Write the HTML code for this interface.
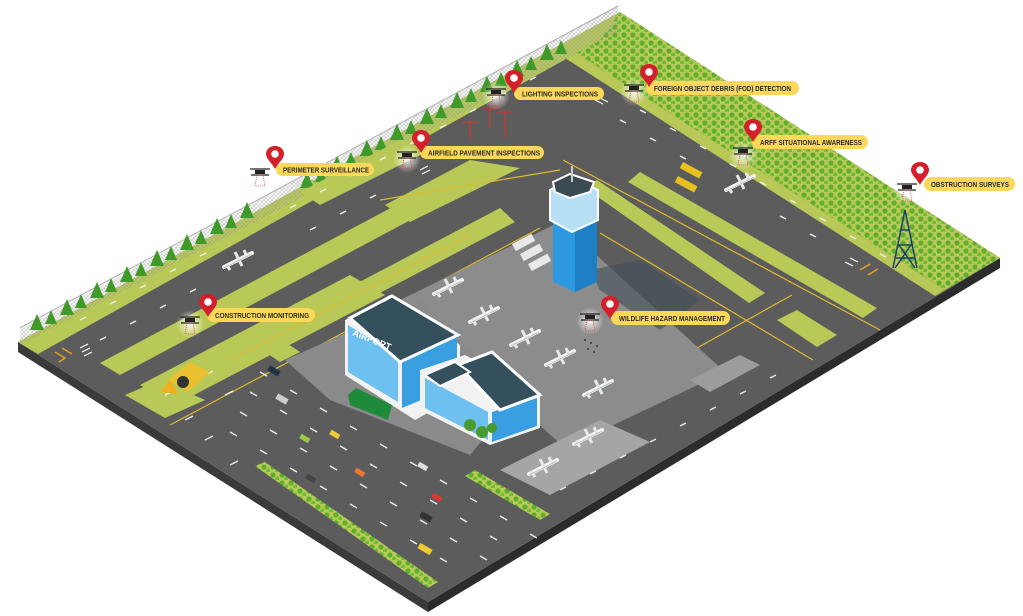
<!DOCTYPE html>
<html><head><meta charset="utf-8"><style>
html,body{margin:0;padding:0;background:#fff;width:1023px;height:616px;overflow:hidden}
svg{display:block}
.lb{font-family:"Liberation Sans Narrow","Liberation Sans",sans-serif;font-weight:bold;font-size:7.5px;fill:#2a2a2a}
</style></head><body>
<svg width="1023" height="616" viewBox="0 0 1023 616" xmlns="http://www.w3.org/2000/svg">
<defs>
<pattern id="shr" width="9" height="8" patternUnits="userSpaceOnUse">
<rect width="9" height="8" fill="#b9c957"/>
<circle cx="3" cy="3" r="2.6" fill="#5fae2e"/><circle cx="7.5" cy="7" r="2.4" fill="#6cbf34"/>
</pattern>
<pattern id="fen" width="4" height="4" patternUnits="userSpaceOnUse">
<path d="M0 0L4 4M4 0L0 4" stroke="#999" stroke-width="0.5"/>
</pattern>
<radialGradient id="glow"><stop offset="0" stop-color="#fff" stop-opacity=".9"/><stop offset="1" stop-color="#fff" stop-opacity="0"/></radialGradient>
<g id="pin"><path d="M0 0C-6 0-9 4-9 8C-9 13-3 17 0 23C3 17 9 13 9 8C9 4 6 0 0 0Z" fill="#d3202a"/><circle cx="0" cy="8" r="3.8" fill="#fff"/></g>
<g id="drone"><circle cx="0" cy="4" r="14" fill="url(#glow)"/><rect x="-5" y="-2" width="10" height="4" fill="#222"/><path d="M-10 -3H10M-9 3H9" stroke="#222" stroke-width="1.3"/><path d="M-3 3L-5 14H5L3 3Z" fill="none" stroke="#e04040" stroke-width="0.8" stroke-dasharray="1 1"/></g>
<g id="plane"><path d="M-14 7L14 -7" stroke="#f4f4f4" stroke-width="4" stroke-linecap="round"/><path d="M-3 -8L4 6M6 -10L9 -3M-12 4L-8 10" stroke="#e8e8e8" stroke-width="3"/><path d="M-14 8L14 -6" stroke="#9aa" stroke-width="0.6"/></g>
</defs>

<!-- platform sides -->
<polygon points="18,342 428,602 428,612 18,352" fill="#3a3a3a"/>
<polygon points="428,602 1000,258 1000,268 428,612" fill="#2c2c2c"/>
<!-- top surface -->
<polygon points="18,342 620,12 1000,258 428,602" fill="#5c5c5c"/>

<!-- top-right grass band -->
<polygon points="620,12 1000,258 945,290 575,52" fill="url(#shr)"/>
<polygon points="575,52 945,290 935,296 565,58" fill="#b9c957"/>
<!-- top-left grass strip -->
<polygon points="18,342 620,12 600,40 38,354" fill="#b9c957"/>
<!-- fence -->
<polygon points="20,330 618,6 618,32 20,345" fill="url(#fen)" opacity=".9"/>
<line x1="20" y1="328" x2="618" y2="6" stroke="#aaa" stroke-width="1"/>
<!-- trees along TL -->
<g fill="#3f9a2a">
<path d="M30 330l7 -16 7 16z M60 315l7 -16 7 16z M90 298l7 -16 7 16z M120 282l7 -16 7 16z M150 266l7 -16 7 16z M180 250l7 -16 7 16z M210 234l7 -16 7 16z M240 218l7 -16 7 16z M300 188l7 -16 7 16z M330 172l7 -16 7 16z M360 156l7 -16 7 16z M390 140l7 -16 7 16z M420 124l7 -16 7 16z M450 108l7 -16 7 16z M480 92l7 -16 7 16z M510 76l7 -16 7 16z M540 60l7 -16 7 16z M45 324l6 -14 6 14z M75 308l6 -14 6 14z M105 292l6 -14 6 14z M135 276l6 -14 6 14z M165 260l6 -14 6 14z M195 244l6 -14 6 14z M225 228l6 -14 6 14z M315 182l6 -14 6 14z M345 166l6 -14 6 14z M375 150l6 -14 6 14z M405 134l6 -14 6 14z M435 118l6 -14 6 14z M465 102l6 -14 6 14z M495 86l6 -14 6 14z M525 70l6 -14 6 14z M555 54l6 -14 6 14z"/>
</g>

<!-- lime strips (left side) -->
<polygon points="100,363 400,203 420,215 120,375" fill="#b9c957"/>
<polygon points="300,192 400,140 430,150 320,205" fill="#b9c957"/>
<polygon points="385,205 470,160 520,168 410,222" fill="#b9c957"/>
<polygon points="140,385 350,275 385,295 175,405" fill="#b9c957"/>
<polygon points="125,395 160,380 205,400 165,418" fill="#b9c957"/>
<polygon points="240,345 500,208 515,222 260,356" fill="#b9c957"/>
<polygon points="265,352 285,342 300,352 280,362" fill="#b9c957"/>
<!-- lime strips right -->
<polygon points="628,182 640,172 877,308 863,318" fill="#b9c957"/>
<polygon points="585,188 597,180 765,293 749,303" fill="#b9c957"/>
<polygon points="777,320 797,310 837,335 817,347" fill="#b9c957"/>

<!-- yellow taxi lines -->
<g stroke="#e0b830" stroke-width="1.2" fill="none">
<path d="M170 425L540 228"/>
<path d="M563 160L880 330"/>
<path d="M600 233L813 360"/>
<path d="M697 348L792 295"/>
<path d="M230 360L470 235"/>
<path d="M380 200L560 170"/>
</g>

<!-- apron -->
<polygon points="400,300 560,222 725,372 565,448" fill="#8c8c8c"/>
<polygon points="500,470 600,420 650,442 550,495" fill="#a5a5a5"/>
<polygon points="285,360 420,300 520,395 470,455 330,400" fill="#8a8a8a"/>
<!-- shadow from tower -->
<polygon points="590,270 640,260 700,300 660,330 600,290" fill="#3f4f55" opacity=".6"/>

<!-- runway dashes -->
<g stroke="#eee" stroke-width="1.5">
<path d="M80 320l6 -3M110 304l6 -3M140 288l6 -3M170 272l6 -3M200 256l6 -3M290 208l6 -3M320 192l6 -3M350 176l6 -3M380 160l6 -3M410 144l6 -3M440 128l6 -3M470 112l6 -3M500 96l6 -3M530 80l6 -3"/>
<path d="M100 340l6 -3M130 324l6 -3M160 308l6 -3M190 292l6 -3M310 230l6 -3M340 214l6 -3M370 198l6 -3"/>
<path d="M640 110l6 3M670 128l6 3M700 146l6 3M730 164l6 3M760 182l6 3M790 200l6 3M820 218l6 3M850 236l6 3M880 254l6 3"/>
<path d="M620 120l6 3M650 138l6 3M680 156l6 3M780 216l6 3M810 234l6 3"/>
</g>
<g stroke="#fff" stroke-width="1"><path d="M80 348l8 -4M82 352l8 -4M84 356l8 -4M595 100l8 4M600 98l8 4M845 262l8 4M850 258l8 4M420 170l8 -4M422 174l8 -4"/></g>
<g stroke="#e8a020" stroke-width="1.5" fill="none"><path d="M55 352l10 6l-6 4M62 348l10 6M860 270l10 -6M868 275l10 -6"/></g>

<!-- road lanes -->
<g stroke="#eee" stroke-width="1.3">
<path d="M165 395l8 -4M185 420l8 -4M205 440l8 -4M230 465l8 -4M205 375l8 -4M225 395l8 -4"/>
<path d="M260 372l7 4M290 390l7 4M320 408l7 4M350 426l7 4M380 444l7 4M410 462l7 4M440 480l7 4M470 498l7 4M500 516l7 4M530 534l7 4"/>
<path d="M250 392l7 4M280 410l7 4M310 428l7 4M340 446l7 4M370 464l7 4M400 482l7 4M430 500l7 4M460 518l7 4M490 536l7 4"/>
<path d="M240 412l7 4M270 430l7 4M300 448l7 4M330 466l7 4M360 484l7 4M390 502l7 4M420 520l7 4M450 538l7 4M480 556l7 4"/>
<path d="M230 432l7 4M260 450l7 4M290 468l7 4M320 486l7 4M350 504l7 4M380 522l7 4M410 540l7 4M440 558l7 4"/>
<path d="M560 490l6 -3M590 474l6 -3M620 458l6 -3M650 442l6 -3M680 426l6 -3M710 410l6 -3M740 394l6 -3M770 378l6 -3"/>
</g>
<!-- bottom shrubs -->
<polygon points="255,466 265,462 438,582 428,588" fill="url(#shr)"/>
<polygon points="465,476 475,470 550,514 540,520" fill="url(#shr)"/>
<polygon points="690,380 740,355 760,365 710,392" fill="#9c9c9c"/>

<!-- construction -->
<polygon points="168,380 190,362 210,372 188,392" fill="#e8c030"/>
<circle cx="183" cy="382" r="6" fill="#333"/>
<polygon points="160,392 170,380 178,394" fill="#f0b020"/>

<!-- tower -->
<polygon points="553,200 572,190 597,200 597,282 575,292 553,282" fill="#2d9ae0"/>
<polygon points="575,200 597,200 597,282 575,292" fill="#1f7fc4"/>
<polygon points="550,190 572,178 598,190 598,220 572,232 550,220" fill="#b8e0f5" stroke="#fff" stroke-width="2"/>
<polygon points="553,182 570,174 594,182 590,192 570,198 555,192" fill="#3a4a52" stroke="#fff" stroke-width="2"/>
<line x1="572" y1="182" x2="572" y2="166" stroke="#ccc" stroke-width="2"/>
<!-- buses -->
<g fill="#e8e8e8"><rect x="512" y="244" width="22" height="8" transform="rotate(-28 512 244)"/><rect x="520" y="254" width="22" height="8" transform="rotate(-28 520 254)"/><rect x="528" y="264" width="22" height="8" transform="rotate(-28 528 264)"/></g>

<!-- terminal -->
<polygon points="345,320 390,295 460,345 460,395 415,420 345,375" fill="#f2f2f2"/>
<polygon points="348,325 348,372 398,402 398,355" fill="#6ec0f0"/>
<polygon points="402,355 457,330 457,385 402,408" fill="#3a9fe0"/>
<polygon points="350,318 392,296 458,335 400,362" fill="#34505c" stroke="#fff" stroke-width="3"/>
<text x="352" y="335" transform="rotate(22 352 335)" font-family="Liberation Sans,sans-serif" font-weight="bold" font-size="9" fill="#fff">AIRPORT</text>
<polygon points="420,370 465,355 540,395 540,428 490,445 420,410" fill="#f2f2f2"/>
<polygon points="425,378 488,412 488,440 425,408" fill="#6ec0f0"/>
<polygon points="492,412 537,398 537,426 492,442" fill="#3a9fe0"/>
<polygon points="458,365 492,352 540,395 500,410" fill="#34505c" stroke="#fff" stroke-width="3"/>
<polygon points="425,375 455,362 470,372 440,386" fill="#34505c" stroke="#fff" stroke-width="2"/>
<circle cx="470" cy="425" r="6" fill="#4a9a30"/><circle cx="482" cy="432" r="6" fill="#4a9a30"/><circle cx="492" cy="428" r="5" fill="#4a9a30"/>
<!-- bus green -->
<polygon points="348,395 356,388 392,405 388,420 350,405" fill="#1e8a3a"/>

<!-- planes -->
<use href="#plane" x="448" y="287"/><use href="#plane" x="484" y="315"/><use href="#plane" x="525" y="338"/><use href="#plane" x="560" y="358"/><use href="#plane" x="598" y="388"/>
<use href="#plane" x="588" y="437"/><use href="#plane" x="543" y="467"/><use href="#plane" x="238" y="260"/><use href="#plane" x="740" y="183"/>
<!-- cars -->
<g><rect x="268" y="368" width="12" height="6" fill="#234" transform="rotate(30 274 371)"/><rect x="276" y="396" width="12" height="6" fill="#ccc" transform="rotate(30 282 399)"/><rect x="300" y="436" width="10" height="5" fill="#9c4" transform="rotate(30 305 438)"/><rect x="330" y="432" width="10" height="5" fill="#ec3" transform="rotate(30 335 434)"/><rect x="355" y="470" width="10" height="5" fill="#e73" transform="rotate(30 360 472)"/><rect x="418" y="464" width="10" height="5" fill="#ddd" transform="rotate(30 423 466)"/><rect x="432" y="495" width="10" height="5" fill="#d33" transform="rotate(30 437 497)"/><rect x="420" y="514" width="12" height="6" fill="#333" transform="rotate(30 426 517)"/><rect x="418" y="546" width="14" height="6" fill="#ec3" transform="rotate(30 425 549)"/><rect x="306" y="476" width="10" height="5" fill="#444" transform="rotate(30 311 478)"/></g>
<!-- fire trucks -->
<rect x="683" y="162" width="22" height="7" fill="#e8c020" transform="rotate(28 683 162)"/><rect x="678" y="176" width="22" height="7" fill="#e8c020" transform="rotate(28 678 176)"/>
<!-- light towers -->
<g stroke="#c33" stroke-width="1.2"><path d="M470 140V120M490 128V104M505 138V110M462 122h16M482 108h16M497 112h16"/></g>
<!-- obstruction tower -->
<g stroke="#1d3d6e" stroke-width="1.5" fill="none"><path d="M893 268L905 210L917 268M898 245h14M896 258h18M900 230h10M899 245L915 268M911 245L895 268"/></g>
<!-- wildlife birds -->
<g fill="#333"><circle cx="585" cy="340" r="1"/><circle cx="591" cy="343" r="1"/><circle cx="597" cy="346" r="1"/><circle cx="588" cy="349" r="1"/><circle cx="594" cy="352" r="1"/></g>

<!-- drones -->
<use href="#drone" x="260" y="172"/><use href="#drone" x="407" y="155"/><use href="#drone" x="496" y="92"/><use href="#drone" x="634" y="88"/><use href="#drone" x="743" y="151"/><use href="#drone" x="907" y="187"/><use href="#drone" x="190" y="320"/><use href="#drone" x="590" y="317"/>

<!-- labels -->
<g>
<rect x="276" y="163" width="98" height="13" rx="6.5" fill="#fbd85a"/><text class="lb" x="283" y="172.5" textLength="86" lengthAdjust="spacingAndGlyphs">PERIMETER SURVEILLANCE</text><use href="#pin" x="275" y="146"/>
<rect x="420" y="146" width="124" height="13" rx="6.5" fill="#fbd85a"/><text class="lb" x="428" y="155.5" textLength="112" lengthAdjust="spacingAndGlyphs">AIRFIELD PAVEMENT INSPECTIONS</text><use href="#pin" x="421" y="130"/>
<rect x="514" y="87" width="90" height="13" rx="6.5" fill="#fbd85a"/><text class="lb" x="522" y="96.5" textLength="76" lengthAdjust="spacingAndGlyphs">LIGHTING INSPECTIONS</text><use href="#pin" x="514" y="70"/>
<rect x="646" y="81" width="153" height="14" rx="7" fill="#fbd85a"/><text class="lb" x="654" y="91" textLength="137" lengthAdjust="spacingAndGlyphs">FOREIGN OBJECT DEBRIS (FOD) DETECTION</text><use href="#pin" x="649" y="64"/>
<rect x="752" y="135" width="116" height="14" rx="7" fill="#fbd85a"/><text class="lb" x="760" y="145" textLength="102" lengthAdjust="spacingAndGlyphs">ARFF SITUATIONAL AWARENESS</text><use href="#pin" x="753" y="119"/>
<rect x="924" y="177" width="91" height="14" rx="7" fill="#fbd85a"/><text class="lb" x="931" y="187" textLength="78" lengthAdjust="spacingAndGlyphs">OBSTRUCTION SURVEYS</text><use href="#pin" x="920" y="162"/>
<rect x="207" y="308" width="108" height="14" rx="7" fill="#fbd85a"/><text class="lb" x="215" y="318" textLength="94" lengthAdjust="spacingAndGlyphs">CONSTRUCTION MONITORING</text><use href="#pin" x="208" y="294"/>
<rect x="611" y="311" width="119" height="14" rx="7" fill="#fbd85a"/><text class="lb" x="619" y="321" textLength="106" lengthAdjust="spacingAndGlyphs">WILDLIFE HAZARD MANAGEMENT</text><use href="#pin" x="610" y="296"/>
</g>
</svg>
</body></html>
